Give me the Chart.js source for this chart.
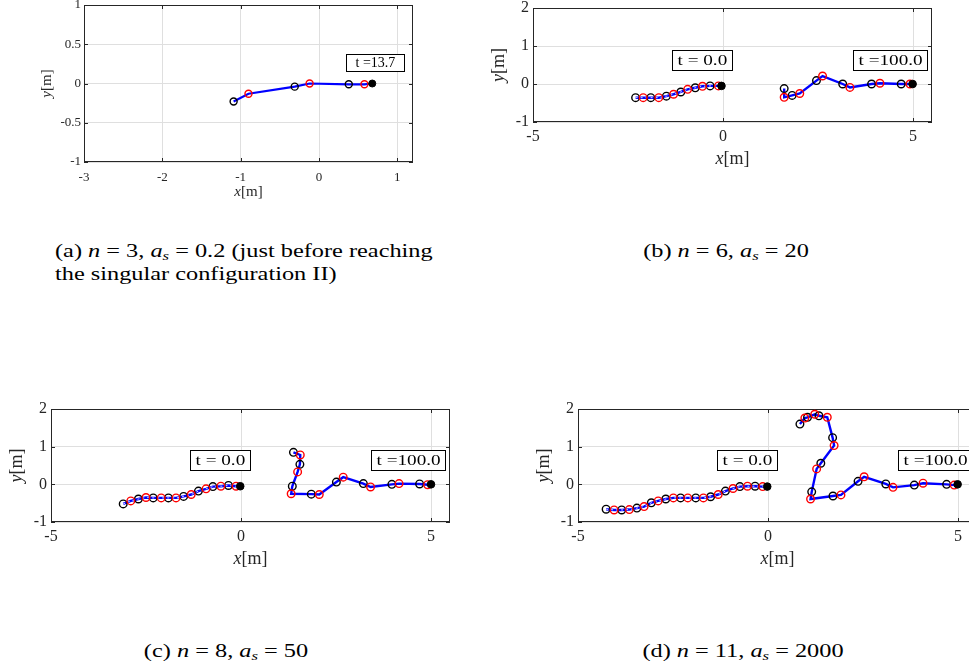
<!DOCTYPE html>
<html>
<head>
<meta charset="utf-8">
<script src="https://cdn.jsdelivr.net/npm/chart.js@4.4.1/dist/chart.umd.min.js"></script>
<style>
  html, body { margin: 0; padding: 0; background: #fff; }
  #page { position: relative; width: 969px; height: 669px; overflow: hidden; background: #fff; }
  canvas { position: absolute; }
  .cap { position: absolute; font-family: "Liberation Serif", "Times New Roman", Times, "DejaVu Serif", serif; font-size: 19px;
         line-height: 23px; color: #000; white-space: nowrap; transform: scaleX(1.28); transform-origin: 0 0; }
  .cap i { font-style: italic; }
  .cap sub { font-size: 13px; vertical-align: -3px; line-height: 0; }
  .ctr { width: 600px; margin-left: -300px; text-align: center; transform-origin: 50% 0; }
</style>
</head>
<body>
<div id="page">
  <canvas id="pa"></canvas>
  <canvas id="pb"></canvas>
  <canvas id="pc"></canvas>
  <canvas id="pd"></canvas>
  <div class="cap" style="left:55px;top:239px">(a) <i>n</i> = 3, <i>a<sub>s</sub></i> = 0.2 (just before reaching<br>the singular configuration II)</div>
  <div class="cap ctr" style="left:726px;top:239px">(b) <i>n</i> = 6, <i>a<sub>s</sub></i> = 20</div>
  <div class="cap ctr" style="left:226px;top:639px">(c) <i>n</i> = 8, <i>a<sub>s</sub></i> = 50</div>
  <div class="cap ctr" style="left:743px;top:639px">(d) <i>n</i> = 11, <i>a<sub>s</sub></i> = 2000</div>
</div>
<script>
// Chain points in order from tail to head: joint, link marker, joint, ..., head.
// (a) n = 3, snapshot at t = 13.7
const chainA_x = [-1.09, -0.90, -0.31, -0.12, 0.38, 0.58, 0.68];
const chainA_y = [-0.23, -0.13, -0.04, 0.00, -0.01, -0.01, 0.00];

// (b) n = 6, t = 0 and t = 100
const chainB0_x = [-2.30, -2.10, -1.90, -1.69, -1.49, -1.30, -1.11, -0.93, -0.73, -0.54, -0.34, -0.12, -0.04];
const chainB0_y = [-0.36, -0.36, -0.36, -0.36, -0.32, -0.27, -0.21, -0.14, -0.10, -0.06, -0.05, -0.05, -0.05];
const chainB1_x = [1.61, 1.61, 1.82, 2.02, 2.46, 2.62, 3.15, 3.34, 3.91, 4.13, 4.69, 4.92, 4.99];
const chainB1_y = [-0.12, -0.35, -0.30, -0.25, 0.09, 0.21, 0.00, -0.09, 0.00, 0.02, 0.00, 0.00, 0.00];

// (c) n = 8, t = 0 and t = 100
const chainC0_x = [-3.10, -2.90, -2.70, -2.50, -2.31, -2.10, -1.91, -1.71, -1.51, -1.31, -1.12, -0.92, -0.74, -0.53, -0.33, -0.13, -0.02];
const chainC0_y = [-0.52, -0.44, -0.39, -0.35, -0.36, -0.36, -0.36, -0.36, -0.32, -0.27, -0.18, -0.12, -0.06, -0.05, -0.03, -0.05, -0.05];
const chainC1_x = [1.38, 1.56, 1.55, 1.49, 1.35, 1.32, 1.85, 2.06, 2.51, 2.69, 3.22, 3.41, 3.97, 4.16, 4.70, 4.91, 5.00];
const chainC1_y = [0.85, 0.78, 0.53, 0.33, -0.05, -0.25, -0.26, -0.27, 0.06, 0.19, 0.02, -0.07, 0.00, 0.02, 0.01, -0.01, 0.00];

// (d) n = 11, t = 0 and t = 100
const chainD0_x = [-4.26, -4.05, -3.85, -3.65, -3.45, -3.26, -3.07, -2.89, -2.69, -2.49, -2.30, -2.11, -1.90, -1.70, -1.51, -1.31, -1.12, -0.92, -0.74, -0.54, -0.34, -0.14, -0.02];
const chainD0_y = [-0.66, -0.68, -0.68, -0.67, -0.63, -0.59, -0.49, -0.44, -0.39, -0.36, -0.36, -0.36, -0.36, -0.36, -0.33, -0.27, -0.18, -0.11, -0.06, -0.05, -0.05, -0.06, -0.06];
const chainD1_x = [0.84, 0.97, 1.04, 1.23, 1.34, 1.56, 1.70, 1.74, 1.39, 1.28, 1.15, 1.12, 1.71, 1.92, 2.37, 2.53, 3.10, 3.29, 3.85, 4.08, 4.70, 4.90, 4.99];
const chainD1_y = [1.60, 1.76, 1.78, 1.86, 1.82, 1.78, 1.24, 1.03, 0.56, 0.41, -0.20, -0.39, -0.31, -0.28, 0.08, 0.20, 0.01, -0.08, -0.02, 0.03, 0.00, -0.02, 0.00];

// Tick values and labels
const ticksA_x = [-3, -2, -1, 0, 1];
const labelsA_x = ['-3', '-2', '-1', '0', '1'];
const ticksA_y = [-1, -0.5, 0, 0.5, 1];
const labelsA_y = ['-1', '-0.5', '0', '0.5', '1'];
const ticks_x = [-5, 0, 5];
const labels_x = ['-5', '0', '5'];
const ticks_y = [-1, 0, 1, 2];
const labels_y = ['-1', '0', '1', '2'];

// Time stamps shown in boxes
const noteA = ['t =13.7'];
const notesT = ['t = 0.0', 't =100.0'];

const SERIF = '"Liberation Serif", "Times New Roman", Times, "DejaVu Serif", serif';

function drawAxisTitle(ctx, parts, size) {
  let total = 0;
  const widths = parts.map(p => {
    ctx.font = (p.italic ? 'italic ' : '') + size + 'px ' + SERIF;
    const w = ctx.measureText(p.t).width;
    total += w;
    return w;
  });
  let x = -total / 2;
  parts.forEach((p, i) => {
    ctx.font = (p.italic ? 'italic ' : '') + size + 'px ' + SERIF;
    ctx.fillText(p.t, x, 0);
    x += widths[i];
  });
}

function panel(id, box, o) {
  const M = { l: 60, t: 20, r: 25, b: 60 };
  const YW = 50, XH = 40;
  const cv = document.getElementById(id);
  const W = box.r - box.l + M.l + M.r, H = box.b - box.t + M.t + M.b;
  cv.width = W; cv.height = H;
  cv.style.width = W + 'px'; cv.style.height = H + 'px';
  cv.style.left = (box.l - M.l) + 'px';
  cv.style.top = (box.t - M.t) + 'px';

  const datasets = [];
  o.chains.forEach(c => {
    const pts = c.x.map((v, i) => ({ x: v, y: c.y[i] }));
    const last = pts.length - 1;
    datasets.push({ data: pts, showLine: true, borderColor: '#0000ff', borderWidth: o.lineW,
                    pointRadius: 0, fill: false, order: 10 });
    if (c.dashed) {
      datasets.push({ data: pts, showLine: true, borderColor: 'rgba(255,255,255,0.85)', borderWidth: 1,
                      borderDash: [2, 3], pointRadius: 0, fill: false, order: 9 });
    }
    datasets.push({ data: pts.filter((p, i) => i < last && i % 2 === 0), showLine: false,
                    pointRadius: o.r, pointBorderWidth: 1.4, pointBorderColor: '#000000',
                    pointBackgroundColor: 'rgba(0,0,0,0)', order: 3 });
    datasets.push({ data: pts.filter((p, i) => i % 2 === 1), showLine: false,
                    pointRadius: o.r, pointBorderWidth: 1.4, pointBorderColor: '#ff0000',
                    pointBackgroundColor: 'rgba(0,0,0,0)', order: 2 });
    datasets.push({ data: [pts[last]], showLine: false, pointRadius: o.r, pointBorderWidth: 1,
                    pointBorderColor: '#000000', pointBackgroundColor: '#000000', order: 1 });
  });

  // axes box with inward ticks, axis titles and time stamp boxes
  const decor = {
    id: 'decor',
    beforeDatasetsDraw(chart) {
      const { ctx, chartArea: a, scales: { x, y } } = chart;
      const L = 4;
      ctx.save();
      ctx.strokeStyle = '#262626';
      ctx.lineWidth = 1;
      ctx.beginPath();
      x.ticks.forEach(t => {
        const px = Math.round(x.getPixelForValue(t.value)) + 0.5;
        ctx.moveTo(px, a.bottom); ctx.lineTo(px, a.bottom - L);
        ctx.moveTo(px, a.top); ctx.lineTo(px, a.top + L);
      });
      y.ticks.forEach(t => {
        const py = Math.round(y.getPixelForValue(t.value)) + 0.5;
        ctx.moveTo(a.left, py); ctx.lineTo(a.left + L, py);
        ctx.moveTo(a.right, py); ctx.lineTo(a.right - L, py);
      });
      ctx.stroke();
      ctx.strokeRect(a.left + 0.5, a.top + 0.5, a.width - 1, a.height - 1);
      ctx.restore();
    },
    afterDraw(chart) {
      const { ctx, chartArea: a, scales: { x, y } } = chart;
      ctx.save();
      ctx.fillStyle = '#262626';
      ctx.textBaseline = 'middle';
      ctx.translate((a.left + a.right) / 2, a.bottom + o.xTitleOff);
      drawAxisTitle(ctx, [{ t: 'x', italic: true }, { t: '[m]' }], o.titleSize);
      ctx.restore();
      ctx.save();
      ctx.fillStyle = '#262626';
      ctx.textBaseline = 'middle';
      ctx.translate(a.left - o.yTitleOff, (a.top + a.bottom) / 2);
      ctx.rotate(-Math.PI / 2);
      drawAxisTitle(ctx, [{ t: 'y', italic: true }, { t: '[m]' }], o.titleSize);
      ctx.restore();

      ctx.save();
      ctx.font = o.noteSize + 'px ' + SERIF;
      ctx.textBaseline = 'middle';
      o.notes.forEach(n => {
        const w = ctx.measureText(n.text).width * o.noteStretch;
        const bx = Math.round(x.getPixelForValue(n.x)) + 0.5;
        const cy = y.getPixelForValue(n.y);
        const bw = Math.round(w + 2 * o.notePad), bh = o.noteBoxH;
        const by = Math.round(cy - bh / 2) + 0.5;
        ctx.fillStyle = '#ffffff';
        ctx.fillRect(bx, by, bw, bh);
        ctx.strokeStyle = '#000000';
        ctx.lineWidth = 1;
        ctx.strokeRect(bx, by, bw, bh);
        ctx.fillStyle = '#000000';
        ctx.save();
        ctx.translate(bx + o.notePad, cy + 1);
        ctx.scale(o.noteStretch, 1);
        ctx.fillText(n.text, 0, 0);
        ctx.restore();
      });
      ctx.restore();
    }
  };

  return new Chart(cv, {
    type: 'scatter',
    data: { datasets },
    options: {
      responsive: false,
      animation: false,
      devicePixelRatio: 1,
      events: [],
      layout: { padding: { left: M.l - YW, top: M.t, right: M.r, bottom: M.b - XH } },
      plugins: { legend: { display: false }, tooltip: { enabled: false } },
      scales: {
        x: {
          type: 'linear', min: o.xMin, max: o.xMax,
          afterBuildTicks: s => { s.ticks = o.xTicks.map(v => ({ value: v })); },
          afterFit: s => { s.height = XH; },
          ticks: { callback: (v, i) => o.xLabels[i], autoSkip: false, maxRotation: 0,
                   font: { family: SERIF, size: o.tickSize }, color: '#262626', padding: o.xPad },
          grid: { color: '#dfdfdf', lineWidth: 1, drawTicks: false },
          border: { display: false }
        },
        y: {
          type: 'linear', min: o.yMin, max: o.yMax,
          afterBuildTicks: s => { s.ticks = o.yTicks.map(v => ({ value: v })); },
          afterFit: s => { s.width = YW; },
          ticks: { callback: (v, i) => o.yLabels[i], autoSkip: false,
                   font: { family: SERIF, size: o.tickSize }, color: '#262626', padding: o.yPad },
          grid: { color: '#dfdfdf', lineWidth: 1, drawTicks: false },
          border: { display: false }
        }
      }
    },
    plugins: [decor]
  });
}

const common = {
  xMin: -5, xMax: 5.5, yMin: -1, yMax: 2,
  xTicks: ticks_x, xLabels: labels_x, yTicks: ticks_y, yLabels: labels_y,
  tickSize: 16, titleSize: 18, noteSize: 15, noteStretch: 1.28, notePad: 5, noteBoxH: 20,
  lineW: 2.4, r: 3.8, xPad: 5, yPad: 4, xTitleOff: 37, yTitleOff: 34
};
const notesBCD = [{ text: notesT[0], x: -1.34, y: 0.64 }, { text: notesT[1], x: 3.41, y: 0.64 }];

panel('pa', { l: 84, t: 5, r: 413, b: 162 }, Object.assign({}, common, {
  xMin: -3, xMax: 1.2, yMin: -1, yMax: 1,
  xTicks: ticksA_x, xLabels: labelsA_x, yTicks: ticksA_y, yLabels: labelsA_y,
  tickSize: 13, titleSize: 15, noteSize: 14, noteStretch: 1, notePad: 9, noteBoxH: 17,
  r: 3.5, lineW: 2.2, xPad: 8, yPad: 3, xTitleOff: 30, yTitleOff: 37,
  chains: [{ x: chainA_x, y: chainA_y }],
  notes: [{ text: noteA[0], x: 0.34, y: 0.27 }]
}));

panel('pb', { l: 533, t: 8, r: 932, b: 122 }, Object.assign({}, common, {
  chains: [{ x: chainB0_x, y: chainB0_y, dashed: true }, { x: chainB1_x, y: chainB1_y }],
  notes: notesBCD
}));

panel('pc', { l: 51, t: 409, r: 450, b: 522 }, Object.assign({}, common, {
  chains: [{ x: chainC0_x, y: chainC0_y, dashed: true }, { x: chainC1_x, y: chainC1_y }],
  notes: notesBCD
}));

panel('pd', { l: 578, t: 409, r: 977, b: 522 }, Object.assign({}, common, {
  chains: [{ x: chainD0_x, y: chainD0_y, dashed: true }, { x: chainD1_x, y: chainD1_y }],
  notes: notesBCD
}));
</script>
</body>
</html>
